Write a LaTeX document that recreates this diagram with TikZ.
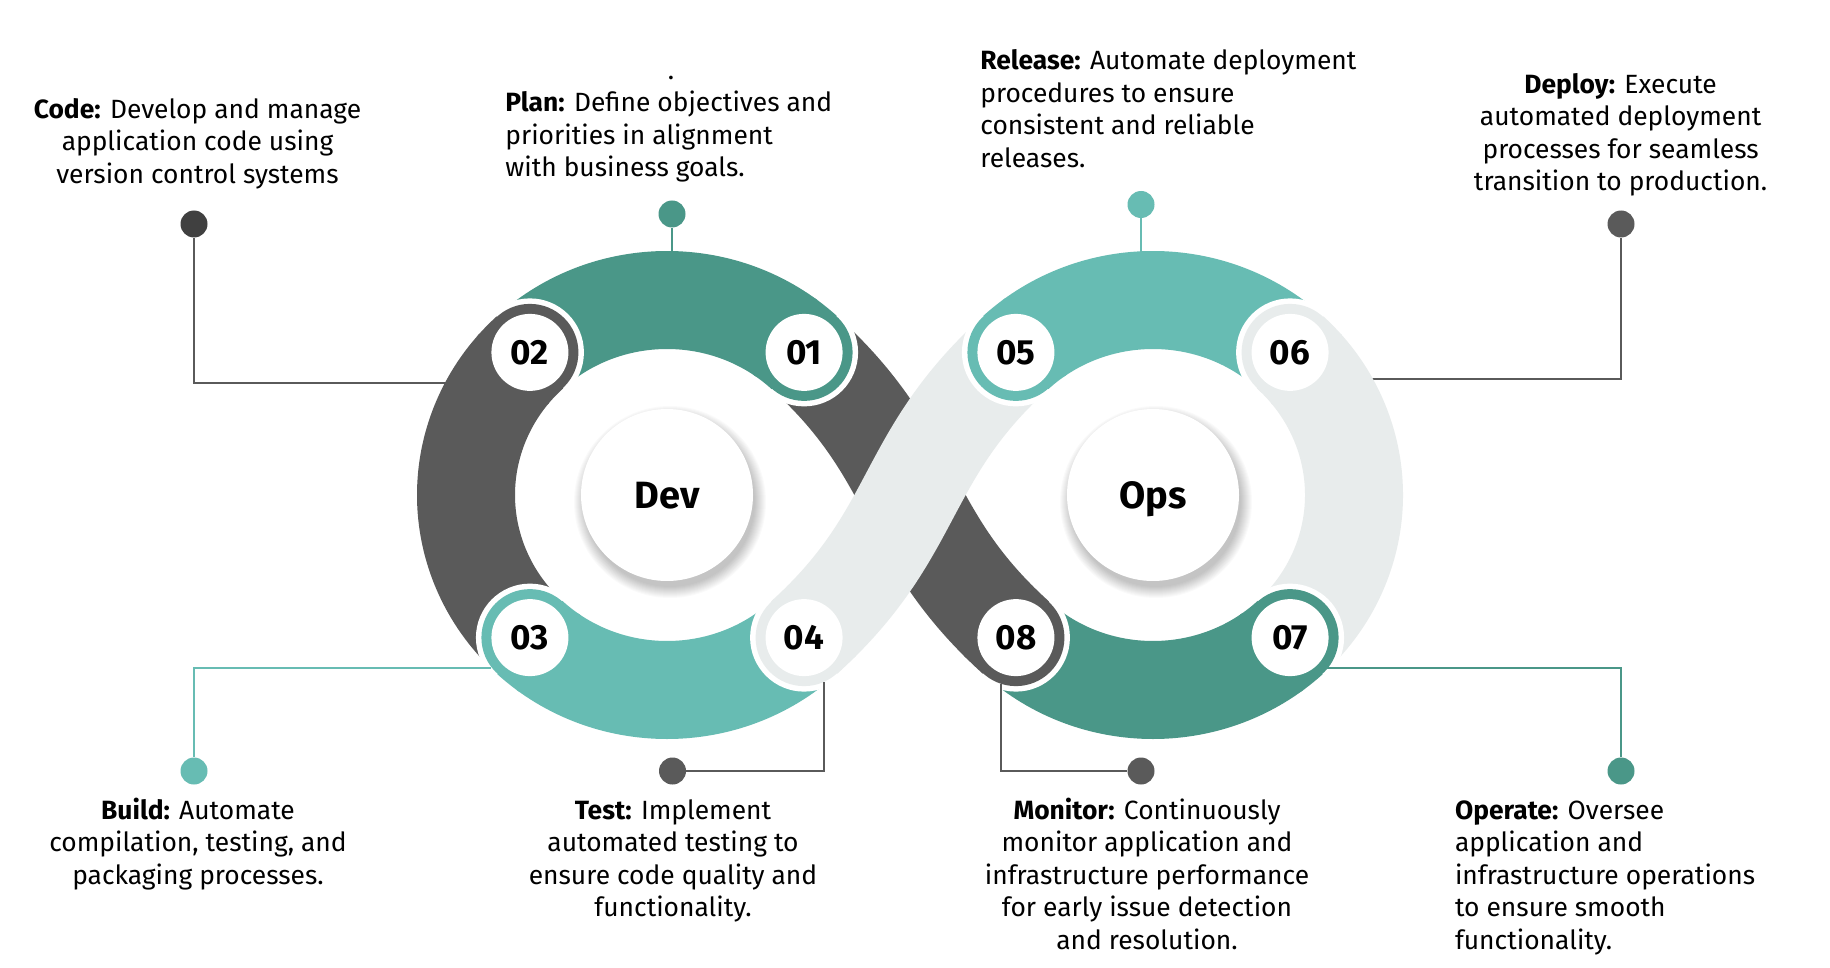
\documentclass[tikz,border=0pt]{standalone}
\usepackage{fontspec}
\setmainfont{Fira Sans}
\definecolor{tealD}{HTML}{4A9788}
\definecolor{tealL}{HTML}{67BCB3}
\definecolor{grayD}{HTML}{5A5A5A}
\definecolor{grayL}{HTML}{E8ECEC}
\definecolor{dotD}{HTML}{404040}
\tikzset{
  band/.style={line width=49pt},
  ringface/.style={circle, inner sep=0pt, minimum size=48.5pt},
  numface/.style={circle, fill=white, inner sep=0pt, minimum size=38.5pt, font=\fontsize{17.5}{20}\selectfont\bfseries},
  hubface/.style={circle, fill=white, inner sep=0pt, minimum size=86pt, text depth=0pt, font=\fontsize{19}{22}\selectfont\bfseries},
  desc/.style={inner sep=0pt, font=\fontsize{13.2}{16.25}\selectfont},
  pin/.style={circle, inner sep=0pt, minimum size=13.5pt},
  link/.style={line width=1pt},
}
\newcommand\mybadge[5]{%
  \fill[white] (#2) circle[radius=54];
  \begin{scope}\clip (#2) circle[radius=55]; \draw[band,#3] #4; \end{scope}
  \node[ringface, fill=#3] (#1) at (#2) {};
  \node[numface] (#1t) at (#2) {#5};
}
\begin{document}
\begin{tikzpicture}[x=0.5pt,y=-0.5pt]
\useasboundingbox (0,0) rectangle (1830,968);
\fill[white] (0,0) rectangle (1830,968);
% centres
\coordinate (D) at (667,495);
\coordinate (O) at (1153,495);
\coordinate (p1) at ([shift={(-47:201 and 195)}]D);
\coordinate (p2) at ([shift={(-133:201 and 195)}]D);
\coordinate (p3) at ([shift={(133:201 and 195)}]D);
\coordinate (p4) at ([shift={(47:201 and 195)}]D);
\coordinate (p5) at ([shift={(-133:201 and 195)}]O);
\coordinate (p6) at ([shift={(-47:201 and 195)}]O);
\coordinate (p7) at ([shift={(47:201 and 195)}]O);
\coordinate (p8) at ([shift={(133:201 and 195)}]O);
\def\segA{(p1) arc[start angle=-47,end angle=-133,x radius=201,y radius=195]}
\def\segB{(p2) arc[start angle=-133,end angle=-227,x radius=201,y radius=195]}
\def\segC{(p3) arc[start angle=133,end angle=47,x radius=201,y radius=195]}
\def\segD{(p4) .. controls +(115.7,-104.7) and +(-115.7,104.7) .. (p5)}
\def\segE{(p5) arc[start angle=-133,end angle=-47,x radius=201,y radius=195]}
\def\segF{(p6) arc[start angle=-47,end angle=47,x radius=201,y radius=195]}
\def\segG{(p7) arc[start angle=47,end angle=133,x radius=201,y radius=195]}
\def\segH{(p8) .. controls +(-115.7,-104.7) and +(115.7,104.7) .. (p1)}
% pins
\node[pin, fill=dotD] (pCode) at (194,224) {};
\node[pin, fill=tealD] (pPlan) at (672,214) {};
\node[pin, fill=tealL] (pRel) at (1141,204.5) {};
\node[pin, fill=grayD] (pDep) at (1621,224) {};
\node[pin, fill=tealL] (pBuild) at (194,771) {};
\node[pin, fill=grayD] (pTest) at (672.5,771) {};
\node[pin, fill=grayD] (pMon) at (1141,771) {};
\node[pin, fill=tealD] (pOp) at (1621,771) {};
% connector ends
\coordinate (eCode) at (452,383);
\coordinate (ePlan) at (672,262);
\coordinate (eRel) at (1141,262);
\coordinate (eDep) at (1365,379);
\coordinate (eBuild) at (491,668);
\coordinate (eTest) at (824,682);
\coordinate (eMon) at (1001,684);
\coordinate (eOp) at (1326,668);
% connectors behind the rings
\draw[link, grayD] (pCode) |- (eCode);
\draw[link, tealD] (pPlan) -- (ePlan);
\draw[link, tealL] (pRel) -- (eRel);
\draw[link, grayD] (pDep) |- (eDep);
% hub shadows
\foreach \i in {1,...,12}{
  \fill[black, opacity=0.018] ([shift={(3,7)}]D) circle[radius=84+\i];
  \fill[black, opacity=0.018] ([shift={(3,7)}]O) circle[radius=84+\i];
}
\node[hubface] (dev) at (D) {Dev};
\node[hubface] (ops) at (O) {Ops};
% segments
\draw[band, grayD] \segH;
\draw[band, tealD] \segA;
\draw[band, grayD] \segB;
\draw[band, tealL] \segC;
\draw[band, grayL] \segD;
\draw[band, tealL] \segE;
\draw[band, grayL] \segF;
\draw[band, tealD] \segG;
% badges
\mybadge{b1}{p1}{tealD}{\segA}{01}
\mybadge{b2}{p2}{grayD}{\segB}{02}
\mybadge{b3}{p3}{tealL}{\segC}{03}
\mybadge{b4}{p4}{grayL}{\segD}{04}
\mybadge{b5}{p5}{tealL}{\segE}{05}
\mybadge{b6}{p6}{grayL}{\segF}{06}
\mybadge{b7}{p7}{tealD}{\segG}{07}
\mybadge{b8}{p8}{grayD}{\segH}{08}
% connectors on top
\draw[link, tealL] (pBuild) |- (eBuild);
\draw[link, grayD] (pTest) -| (eTest);
\draw[link, grayD] (pMon) -| (eMon);
\draw[link, tealD] (pOp) |- (eOp);
% texts (anchor base = baseline of the last line)
\node[desc, anchor=base] (dotmark) at (671,80) {.};
\node[desc, align=center, anchor=base] (tCode) at (197.5,183.3) {\textbf{Code:} Develop and manage\\application code using\\version control systems};
\node[desc, align=left, anchor=base west] (tPlan) at (505,176.7) {\textbf{Plan:} Define objectives and\\priorities in alignment\\with business goals.};
\node[desc, align=left, anchor=base west] (tRel) at (980,167.5) {\textbf{Release:} Automate deployment\\procedures to ensure\\consistent and reliable\\releases.};
\node[desc, align=center, anchor=base] (tDep) at (1620.6,190.8) {\textbf{Deploy:} Execute\\automated deployment\\processes for seamless\\transition to production.};
\node[desc, align=center, anchor=base] (tBuild) at (198,884.3) {\textbf{Build:} Automate\\compilation, testing, and\\packaging processes.};
\node[desc, align=center, anchor=base] (tTest) at (673,916.8) {\textbf{Test:} Implement\\automated testing to\\ensure code quality and\\functionality.};
\node[desc, align=center, anchor=base] (tMon) at (1147,949.3) {\textbf{Monitor:} Continuously\\monitor application and\\infrastructure performance\\for early issue detection\\and resolution.};
\node[desc, align=left, anchor=base west] (tOp) at (1454.6,949.3) {\textbf{Operate:} Oversee\\application and\\infrastructure operations\\to ensure smooth\\functionality.};
\end{tikzpicture}
\end{document}
